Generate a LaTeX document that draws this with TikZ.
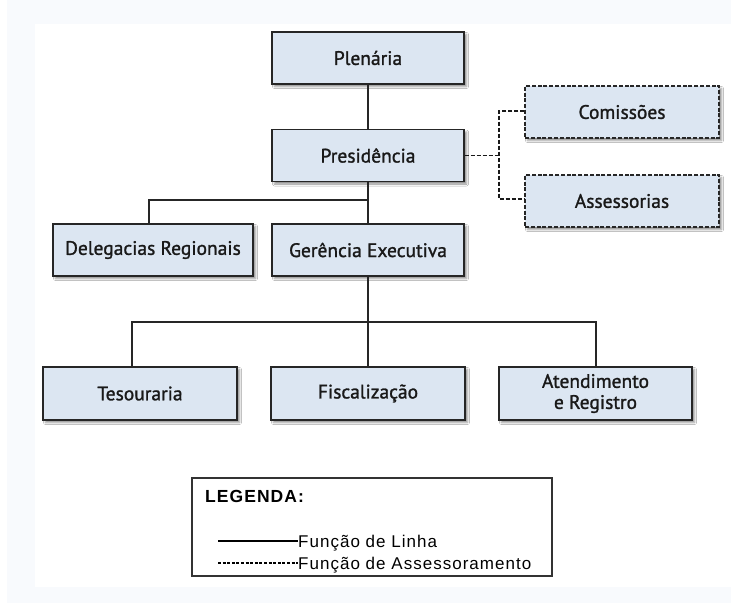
\documentclass[tikz,border=0pt]{standalone}
\usepackage{fontspec}
\setmainfont{PT Sans}[FakeBold=1.3]
\newfontfamily\legfont{Liberation Sans}[LetterSpace=6]
\usetikzlibrary{shadows.blur}
\definecolor{boxfill}{HTML}{DCE6F2}
\definecolor{boxline}{HTML}{262626}
\definecolor{margin}{HTML}{F8FAFD}
\tikzset{
  orgbox/.style={draw=boxline, line width=1.4pt, fill=boxfill, minimum height=52pt,
    inner sep=2pt, align=center, font=\fontsize{19.5}{19}\selectfont, text=black!90,
    blur shadow={shadow xshift=2.5pt, shadow yshift=-2.5pt, shadow blur steps=4, shadow opacity=45}},
  advbox/.style={orgbox, dash pattern=on 4pt off 1.8pt, line width=1.3pt},
  conn/.style={draw=black!85, line width=1.2pt},
  advconn/.style={draw=black!90, line width=1.3pt, dash pattern=on 4pt off 2pt},
}
\begin{document}
\begin{tikzpicture}[x=1pt,y=-1pt]
\useasboundingbox (0,0) rectangle (731,603);
\fill[margin] (7,0) rectangle (731,603);
\fill[white] (35,24) rectangle (731,587);

\node[orgbox, minimum width=192pt] (plen) at (368,58) {Plenária};
\node[orgbox, minimum width=192pt] (pres) at (368,155.5) {Presidência};
\node[advbox, minimum width=194pt] (com) at (622,112) {Comissões};
\node[advbox, minimum width=194pt] (ass) at (622,201) {Assessorias};
\node[orgbox, minimum width=200pt] (deleg) at (153,250) {Delegacias Regionais};
\node[orgbox, minimum width=192pt] (ger) at (368,250) {Gerência Executiva};
\node[orgbox, minimum width=194pt, minimum height=53pt] (tes) at (140,393.5) {Tesouraria};
\node[orgbox, minimum width=194pt, minimum height=53pt] (fis) at (368,393.5) {Fiscalização};
\node[orgbox, minimum width=193pt, minimum height=53pt, font=\fontsize{19.5}{21}\selectfont] (ate) at (595.5,393.5) {Atendimento\\e Registro};

% line connectors
\coordinate (b1) at (368,200);
\coordinate (b1l) at (149,200);
\coordinate (b2) at (368,322);
\coordinate (b2l) at (132,322);
\coordinate (b2r) at (596,322);
\draw[conn] (plen.south) -- (pres.north);
\draw[conn] (pres.south) -- (ger.north);
\draw[conn] (b1) -- (b1l) -- (b1l |- deleg.north);
\draw[conn] (ger.south) -- (fis.north);
\draw[conn] (b2l |- tes.north) -- (b2l) -- (b2r) -- (b2r |- ate.north);

% advisory connectors
\coordinate (d1) at (499,155.5);
\coordinate (d1t) at (499,111);
\coordinate (d1b) at (499,199);
\draw[advconn] (pres.east) -- (d1);
\draw[advconn] (com.west |- d1t) -- (d1t) -- (d1b) -- (ass.west |- d1b);

% legend
\node[draw=black!80, line width=1.3pt, minimum width=360pt, minimum height=98pt] (leg) at (372,527) {};
\node[anchor=base west, inner sep=0pt, font=\legfont\bfseries\fontsize{17.5}{17}\selectfont] (legt) at (205,502) {LEGENDA:};
\coordinate (l1a) at (218,541);
\coordinate (l1b) at (298,541);
\coordinate (l2a) at (218,563);
\coordinate (l2b) at (298,563);
\draw[draw=black, line width=1.1pt] (l1a) -- (l1b);
\draw[draw=black, line width=1.1pt, dash pattern=on 3pt off 1.6pt] (l2a) -- (l2b);
\node[anchor=base west, inner sep=0pt, font=\legfont\fontsize{17}{17}\selectfont] (t1) at (298,547) {Função de Linha};
\node[anchor=base west, inner sep=0pt, font=\legfont\fontsize{17}{17}\selectfont] (t2) at (298,569) {Função de Assessoramento};
\end{tikzpicture}
\end{document}
